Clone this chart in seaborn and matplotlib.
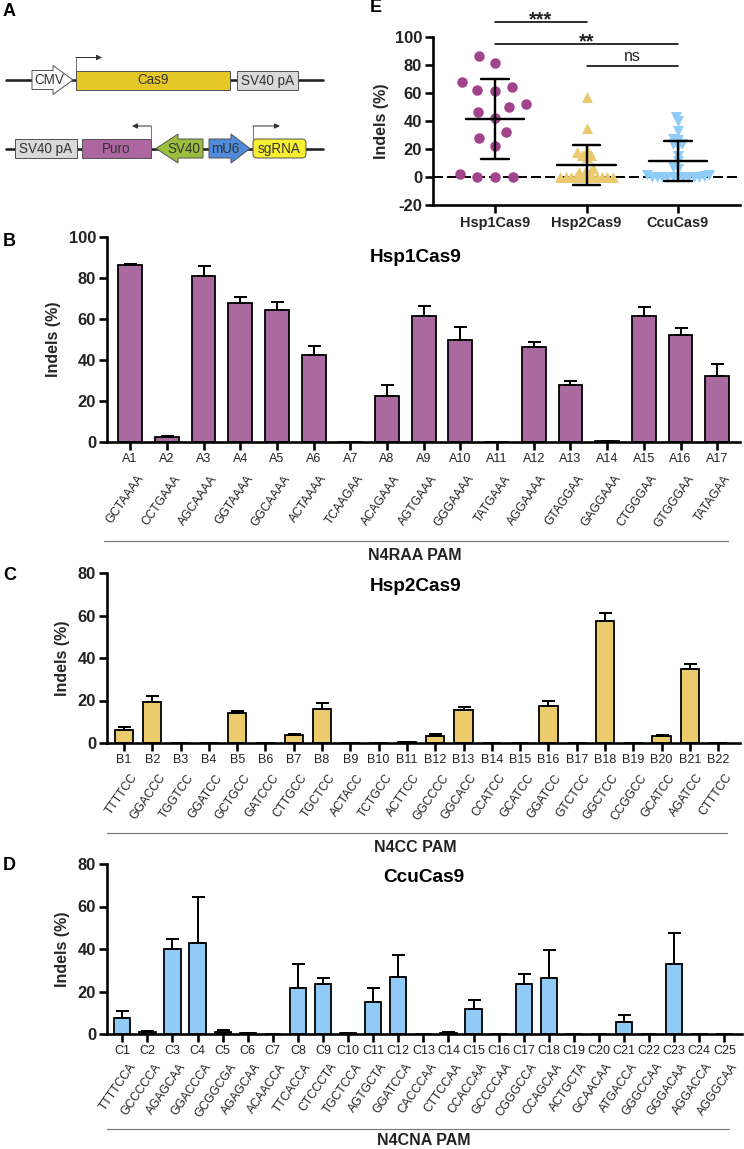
import numpy as np
import pandas as pd
import matplotlib
matplotlib.use("Agg")
import matplotlib.pyplot as plt
import matplotlib.patches as mpatches
import seaborn as sns

# Panel B - Hsp1Cas9 on N4RAA PAM sites
HSP1_SITES = ["A%d" % i for i in range(1, 18)]
HSP1_SEQS = ["GCTAAAA", "CCTGAAA", "AGCAAAA", "GGTAAAA", "GGCAAAA", "ACTAAAA", "TCAAGAA",
             "ACAGAAA", "AGTGAAA", "GGGAAAA", "TATGAAA", "AGGAAAA", "GTAGGAA", "GAGGAAA",
             "CTGGGAA", "GTGGGAA", "TATAGAA"]
HSP1_MEAN = [86.2, 2.2, 81.0, 67.8, 64.4, 42.3, 0.0, 22.3, 61.6, 50.0, 0.0, 46.3, 28.0,
             0.3, 61.7, 52.2, 32.1]
HSP1_ERR = [0.8, 0.8, 5.0, 2.7, 4.1, 4.7, 0.0, 5.4, 4.5, 6.0, 0.0, 2.4, 2.0, 0.0, 4.0,
            3.4, 5.9]

# Panel C - Hsp2Cas9 on N4CC PAM sites
HSP2_SITES = ["B%d" % i for i in range(1, 23)]
HSP2_SEQS = ["TTTTCC", "GGACCC", "TGGTCC", "GGATCC", "GCTGCC", "GATCCC", "CTTGCC", "TGCTCC",
             "ACTACC", "TCTGCC", "ACTTCC", "GGCCCC", "GGCACC", "CCATCC", "GCATCC", "GGATCC",
             "GTCTCC", "GGCTCC", "CCGGCC", "GCATCC", "AGATCC", "CTTTCC"]
HSP2_MEAN = [6.3, 19.3, 0.0, 0.0, 14.3, 0.0, 3.6, 15.8, 0.2, 0.0, 0.3, 3.5, 15.4, 0.0, 0.1,
             17.6, 0.0, 57.3, 0.2, 3.3, 34.7, 0.0]
HSP2_ERR = [1.4, 3.0, 0.0, 0.0, 0.9, 0.0, 0.5, 2.9, 0.0, 0.0, 0.0, 0.9, 1.4, 0.0, 0.0,
            2.2, 0.0, 3.9, 0.0, 0.6, 2.5, 0.0]

# Panel D - CcuCas9 on N4CNA PAM sites
CCU_SITES = ["C%d" % i for i in range(1, 26)]
CCU_SEQS = ["TTTTCCA", "GCCCCCA", "AGAGCAA", "GGACCCA", "GCGGCGA", "AGAGCAA", "ACAACCA",
            "TTCACCA", "CTCCCTA", "TGCTCCA", "AGTGCTA", "GGATCCA", "CACCCAA", "CTTCCAA",
            "CCACCAA", "GCCCCAA", "CGGGCCA", "CCAGCAA", "ACTGCTA", "GCAACAA", "ATGACCA",
            "GGGCCAA", "GGGACAA", "AGGACCA", "AGGGCAA"]
CCU_MEAN = [7.4, 1.1, 39.8, 43.0, 1.1, 0.3, 0.0, 21.8, 23.4, 0.3, 15.2, 27.0, 0.0, 0.5,
            11.6, 0.0, 23.7, 26.2, 0.2, 0.2, 5.8, 0.2, 32.9, 0.0, 0.0]
CCU_ERR = [3.3, 0.4, 4.7, 21.5, 0.7, 0.0, 0.0, 11.3, 3.0, 0.0, 6.3, 10.3, 0.0, 0.3, 4.2,
           0.0, 4.4, 13.3, 0.0, 0.0, 3.0, 0.0, 14.5, 0.0, 0.0]

# Panel E - summary
ENZYMES = ["Hsp1Cas9", "Hsp2Cas9", "CcuCas9"]
SIG_PAIRS = [(0, 1, "***"), (0, 2, "**"), (1, 2, "ns")]
SIG_LEVELS = [110.5, 94.8, 79.3]

PURPLE_BAR = "#aa6aa0"
YELLOW_BAR = "#ebcb6c"
BLUE_BAR = "#8fcbf6"
PURPLE_DOT = "#a2448c"
YELLOW_DOT = "#ebc96e"
BLUE_DOT = "#8ecdf8"
INK = "#222222"

W, H = 744, 1149
sns.set_style("ticks")
plt.rcParams["font.family"] = ["Liberation Sans", "DejaVu Sans"]
plt.rcParams["text.color"] = INK
plt.rcParams["axes.unicode_minus"] = False
fig = plt.figure(figsize=(W / 72, H / 72), dpi=72)


def px_rect(x0, y_top, x1, y_bot):
    return [x0 / W, 1 - y_bot / H, (x1 - x0) / W, (y_bot - y_top) / H]


def style_axis(ax):
    sns.despine(ax=ax)
    for sp in ("left", "bottom"):
        ax.spines[sp].set_linewidth(2.6)
        ax.spines[sp].set_color("black")
    ax.tick_params(axis="both", width=2.6, length=8, color="black")
    ax.tick_params(axis="y", labelsize=16.5, pad=3)
    for lab in ax.get_yticklabels():
        lab.set_fontweight("bold")
        lab.set_color(INK)


def bar_panel(rect, sites, seqs, means, errs, color, xlim, ymax, title, title_xy,
              pam, pam_y, line_y, line_x, seq_dy):
    ax = fig.add_axes(rect)
    df = pd.DataFrame({"site": sites, "indel": means})
    sns.barplot(data=df, x="site", y="indel", order=sites, color=color, saturation=1,
                width=0.65, edgecolor="black", linewidth=1.8, errorbar=None, ax=ax)
    ax.errorbar(np.arange(len(sites)), means, yerr=[np.zeros(len(errs)), errs],
                fmt="none", ecolor="black", elinewidth=2, capsize=6.5, capthick=2,
                zorder=3)
    ax.set_xlim(*xlim)
    ax.set_ylim(0, ymax)
    ax.set_yticks(np.arange(0, ymax + 1, 20))
    ax.set_xlabel("")
    ax.set_ylabel("Indels (%)", fontsize=16, fontweight="bold", labelpad=8)
    style_axis(ax)
    ax.tick_params(axis="x", labelsize=12.5, pad=3, labelcolor=INK)
    for i, s in enumerate(seqs):
        ax.annotate(s, xy=(i, 0), xycoords=("data", "axes fraction"), xytext=(6, seq_dy),
                    textcoords="offset points", rotation=55, ha="right", va="top",
                    rotation_mode="anchor", fontsize=12, color=INK)
    ax.text(title_xy[0], title_xy[1], title, transform=ax.transAxes, ha="center",
            va="center", fontsize=19, fontweight="bold", color="black")
    ax.plot(line_x, [line_y, line_y], transform=ax.transAxes, color="#7a7a7a", lw=1.2,
            clip_on=False)
    ax.text(title_xy[0], pam_y, pam, transform=ax.transAxes, ha="center", va="center",
            fontsize=16, fontweight="bold")
    return ax


# ---------- Panel A: expression constructs ----------
axA = fig.add_axes([0, 1 - 200 / H, 370 / W, 200 / H])
axA.set_xlim(0, 370)
axA.set_ylim(200, 0)
axA.axis("off")
EDGE = "#555555"
for yc in (80, 148.5):
    axA.plot([6, 323], [yc, yc], color="#222222", lw=2.6, zorder=0)


def box(x0, x1, yc, fc, text, rounded=False):
    if rounded:
        p = mpatches.FancyBboxPatch((x0 + 2, yc - 7.5), x1 - x0 - 4, 15,
                                    boxstyle="round,pad=2,rounding_size=4", fc=fc, ec=EDGE, lw=1)
    else:
        p = mpatches.Rectangle((x0, yc - 9.5), x1 - x0, 19, fc=fc, ec=EDGE, lw=1)
    axA.add_patch(p)
    axA.text((x0 + x1) / 2, yc + 0.5, text, ha="center", va="center", fontsize=13.5,
             color="#333333")


def arrow(x_body, x_head, x_tip, yc, fc, text, tx):
    pts = [(x_body, yc - 9.5), (x_head, yc - 9.5), (x_head, yc - 14.5), (x_tip, yc),
           (x_head, yc + 14.5), (x_head, yc + 9.5), (x_body, yc + 9.5)]
    axA.add_patch(mpatches.Polygon(pts, closed=True, fc=fc, ec=EDGE, lw=1))
    axA.text(tx, yc + 0.5, text, ha="center", va="center", fontsize=13.5, color="#333333")


def promoter(x, y_base, x_end):
    axA.plot([x, x], [y_base, y_base - 13], color="#777777", lw=1)
    axA.annotate("", xy=(x_end, y_base - 13), xytext=(x, y_base - 13),
                 arrowprops=dict(arrowstyle="-|>", color="#333333", lw=1, mutation_scale=11,
                                 shrinkA=0, shrinkB=0))


arrow(32, 53, 73, 80, "white", "CMV", 49)
box(76, 230, 80, "#e5c826", "Cas9")
box(237, 298, 80, "#d9d9d9", "SV40 pA")
promoter(76, 70.5, 102)

box(15, 77, 148.5, "#d9d9d9", "SV40 pA")
box(82, 151, 148.5, "#ad66a0", "Puro")
arrow(203, 178, 156, 148.5, "#9bbf3c", "SV40", 184)
arrow(209, 231, 250, 148.5, "#4f8bdb", "mU6", 225)
box(253, 306, 148.5, "#f6f030", "sgRNA", rounded=True)
promoter(151, 139, 132)
promoter(253, 139, 280)

# ---------- Panels B, C, D ----------
bar_panel(px_rect(107, 237, 740, 442), HSP1_SITES, HSP1_SEQS, HSP1_MEAN, HSP1_ERR,
          PURPLE_BAR, (-0.63, 16.62), 100, "Hsp1Cas9", (0.487, 0.898),
          "N4RAA PAM", -0.556, -0.483, [-0.005, 0.981], -31)
bar_panel(px_rect(107, 573, 740, 743), HSP2_SITES, HSP2_SEQS, HSP2_MEAN, HSP2_ERR,
          YELLOW_BAR, (-0.6, 21.77), 80, "Hsp2Cas9", (0.487, 0.923),
          "N4CC PAM", -0.615, -0.53, [0.0, 0.979], -29)
bar_panel(px_rect(107, 864, 742, 1034), CCU_SITES, CCU_SEQS, CCU_MEAN, CCU_ERR,
          BLUE_BAR, (-0.61, 24.7), 80, "CcuCas9", (0.499, 0.918),
          "N4CNA PAM", -0.624, -0.56, [0.0, 0.98], -27)

# ---------- Panel E: summary scatter ----------
axE = fig.add_axes(px_rect(433, 36.7, 740, 205))
# (values, colour, marker, swarm spacing, drawn marker size)
groups = [(HSP1_MEAN, PURPLE_DOT, "o", 17, 10.5),
          (HSP2_MEAN, YELLOW_DOT, "^", 5, 11),
          (CCU_MEAN, BLUE_DOT, "v", 5, 11)]
swarms = []
for name, (vals, col, mk, spread, msize) in zip(ENZYMES, groups):
    n0 = len(axE.collections)
    d = pd.DataFrame({"enzyme": name, "indel": vals})
    sns.swarmplot(data=d, x="enzyme", y="indel", order=ENZYMES, color=col, marker=mk,
                  size=spread, linewidth=0, ax=axE, warn_thresh=1, zorder=2)
    swarms.append((axE.collections[n0:], msize))
for i, (vals, col, mk, spread, msize) in enumerate(groups):
    m, s = np.mean(vals), np.std(vals, ddof=1)
    axE.plot([i - 0.32, i + 0.32], [m, m], color="black", lw=2.4, zorder=4)
    axE.plot([i, i], [m - s, m + s], color="black", lw=2.4, zorder=4)
    for y in (m - s, m + s):
        axE.plot([i - 0.15, i + 0.15], [y, y], color="black", lw=2.4, zorder=4)
axE.axhline(0, color="black", lw=2, ls=(0, (5, 2)), zorder=1)
axE.set_xlim(-0.68, 2.68)
axE.set_ylim(-20, 100)
axE.set_yticks(np.arange(-20, 101, 20))
axE.set_xlabel("")
axE.set_ylabel("Indels (%)", fontsize=16, fontweight="bold", labelpad=6)
style_axis(axE)
axE.tick_params(axis="x", labelsize=14.5, pad=3)
for lab in axE.get_xticklabels():
    lab.set_fontweight("bold")
for (a, b, txt), lvl in zip(SIG_PAIRS, SIG_LEVELS):
    axE.plot([a, b], [lvl, lvl], color="black", lw=1.6, clip_on=False)
    if txt == "ns":
        axE.text((a + b) / 2, lvl + 1.5, txt, ha="center", va="bottom", fontsize=16)
    else:
        axE.text((a + b) / 2, lvl - 5, txt, ha="center", va="bottom", fontsize=20,
                 fontweight="bold")

# panel letters
for letter, (x, y) in zip("ABCDE", [(3, 12), (3, 242), (3, 575), (3, 865), (370, 8)]):
    fig.text(x / W, 1 - y / H, letter, ha="left", va="center", fontsize=18,
             fontweight="bold", color="black")

# lay the swarms out with the chosen spacing, then freeze them and resize the markers
fig.canvas.draw()
for colls, msize in swarms:
    for pts in colls:
        if "draw" in vars(pts):
            del pts.draw
        pts.set_sizes([msize ** 2])

fig.savefig("out.png", dpi=72)
